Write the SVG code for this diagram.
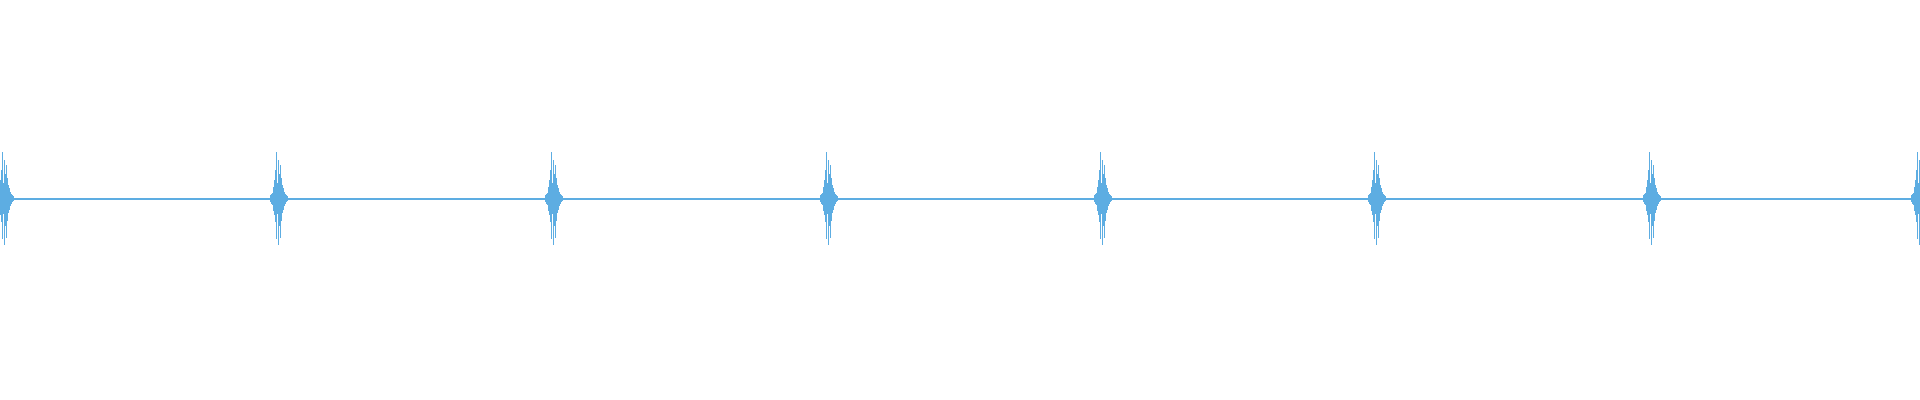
<svg xmlns="http://www.w3.org/2000/svg" width="1920" height="400" viewBox="0 0 1920 400">
<style>.w{stroke:#5dade2;stroke-width:1;fill:none;shape-rendering:crispEdges}</style>
<defs>
<path id="b" d="M-4.5 193V205M-3.5 187V211M-2.5 180V215M-1.5 170V222M-0.5 152V239M0.5 183V214M1.5 160V245M2.5 174V226M3.5 165V238M4.5 178V221M5.5 185V213M6.5 188V210M7.5 192V206M8.5 194V204M9.5 195V202M10.5 196V201M-6.5 195V202M-5.5 194V204"/>
</defs>
<rect width="1920" height="400" fill="#fff"/>
<g id="waveform" class="w">
<path d="M0 199H1920" stroke-width="1.5"/>
<use href="#b" x="3"/>
<use href="#b" x="277"/>
<use href="#b" x="552"/>
<use href="#b" x="827"/>
<use href="#b" x="1101"/>
<use href="#b" x="1375"/>
<use href="#b" x="1650"/>
<use href="#b" x="1918"/>
</g>
</svg>
